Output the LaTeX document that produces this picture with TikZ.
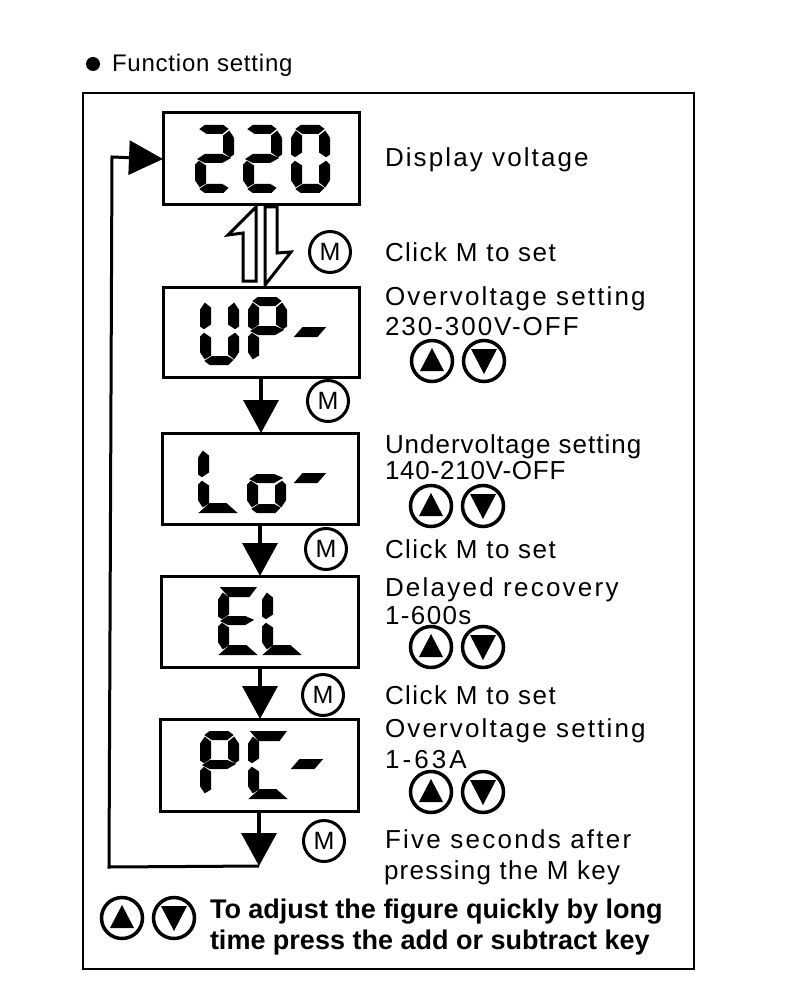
\documentclass[tikz,border=0pt]{standalone}
\usepackage{fontspec}
\setmainfont{Liberation Sans}
\usetikzlibrary{arrows.meta}

\newcommand{\lsp}[1]{\addfontfeature{LetterSpace=#1}}

\tikzset{
  x=1pt,y=-1pt,
  lcdbox/.style={draw,line width=3pt,inner sep=0pt,outer sep=0pt},
  mkey/.style={circle,draw,line width=3pt,minimum size=41pt,inner sep=0pt,font=\fontsize{25}{25}\selectfont},
  arrowkey/.style={circle,draw,line width=3.5pt,minimum size=41pt,inner sep=0pt},
  flow/.style={line width=3.5pt,-{Triangle[length=33pt,width=35pt]}},
  seg/.style={fill=black,draw=black,line width=2pt,line join=miter},
  lbl/.style={anchor=base west,inner sep=0pt,outer sep=0pt,font=\fontsize{26}{26}\selectfont},
  upkey/.pic={\node[arrowkey] {}; \fill (-12,10) -- (0,-13) -- (12,10) -- cycle;},
  downkey/.pic={\node[arrowkey] {}; \fill (-13,-12) -- (13,-12) -- (0,13) -- cycle;},
  sega/.pic={\path[seg] (6,4) -- (10,1) -- (28,1) -- (32,4) -- (27,8) -- (12,8) -- cycle;},
  segb/.pic={\path[seg] (29,11) -- (34,7) -- (38,13) -- (38,29) -- (35,31) -- (29,27) -- cycle;},
  segc/.pic={\path[seg] (29,41) -- (35,37) -- (38,40) -- (38,55) -- (34,61) -- (29,57) -- cycle;},
  segd/.pic={\path[seg] (6,64) -- (12,60) -- (27,60) -- (32,63) -- (28,67) -- (10,67) -- cycle;},
  sege/.pic={\path[seg] (1,40) -- (4,37) -- (10,41) -- (10,58) -- (5,61) -- (1,55) -- cycle;},
  segf/.pic={\path[seg] (1,13) -- (5,7) -- (10,11) -- (10,27) -- (4,31) -- (1,29) -- cycle;},
  segg/.pic={\path[seg] (4,34) -- (10,30) -- (27,30) -- (34,33) -- (27,37) -- (10,37) -- cycle;},
  segs/.pic={\path[seg] (4,1) -- (37,1) -- (31,9) -- (11,9) -- cycle;},
  segl/.pic={\path[seg] (3,67) -- (12,59) -- (28,59) -- (37,67) -- cycle;},
  segm/.pic={\path[seg] (1,9) -- (8,1) -- (29,1) -- (22,9) -- cycle;},
}

% one lcd character: position, list of segments
\newcommand{\lcdchar}[2]{
  \begin{scope}[shift={#1}]
    \foreach \s in {#2} {\pic {seg\s};}
  \end{scope}
}

\begin{document}
\begin{tikzpicture}
  \useasboundingbox (0,0) rectangle (800,1000);

  \fill (93,64) circle (7);
  \node[lbl,font=\fontsize{24}{24}\selectfont] (title) at (112,72) {\lsp{3.3}Function setting};
  \node[draw,line width=2.5pt,minimum width=611pt,minimum height=876pt,inner sep=0pt] (frame) at (388.5,531) {};

  % displays
  \begin{scope}[every node/.style={lcdbox}]
    \node[minimum width=196pt,minimum height=92pt] (disp) at (261,159) {};
    \node[minimum width=196pt,minimum height=90pt] (up)   at (261,332) {};
    \node[minimum width=196pt,minimum height=91pt] (lo)   at (260,478.5) {};
    \node[minimum width=197pt,minimum height=91pt] (el)   at (259.5,621.5) {};
    \node[minimum width=198pt,minimum height=92pt] (pc)   at (259,765) {};
  \end{scope}

  \lcdchar{(195,125)}{a,b,g,e,d}
  \lcdchar{(243,125)}{a,b,g,e,d}
  \lcdchar{(291,125)}{a,b,c,d,e,f}

  \lcdchar{(200,297)}{f,e,d,b,c}
  \lcdchar{(248,297)}{a,b,f,g,e}
  \lcdchar{(295,327)}{m}

  \lcdchar{(198,445)}{f,e,l}
  \lcdchar{(247,445)}{g,c,d,e}
  \lcdchar{(295,473)}{m}

  \lcdchar{(218,587)}{s,f,g,e,l}
  \lcdchar{(262,587)}{f,e,l}

  \lcdchar{(200,731)}{a,b,f,g,e}
  \lcdchar{(248,731)}{s,f,e,l}
  \lcdchar{(292,759)}{m}

  % arrows
  \coordinate (back) at (259,866);
  \coordinate (backb) at (109,867);
  \coordinate (backt) at (112,157);
  \draw[flow] (up.south -| 261,0) -- (lo.north -| 261,0);
  \draw[flow] (lo.south -| 260,0) -- (el.north -| 260,0);
  \draw[flow] (el.south -| 260,0) -- (pc.north -| 260,0);
  \draw[flow] (pc.south -| 259,0) -- (back);
  \draw[line width=3pt,-{Triangle[length=34pt,width=34pt]},line join=miter] (back) -- (backb) -- (backt) -- (disp.west);
  \draw[line width=3pt,fill=white] (256,207) -- (228,235) -- (243,233) -- (243,281) -- (256,281) -- cycle;
  \draw[line width=3pt,fill=white] (265,207) -- (277,207) -- (277,253) -- (291,252) -- (265,285) -- cycle;

  % M keys
  \begin{scope}[every node/.style={mkey}]
    \node (m1) at (330,252) {M};
    \node (m2) at (328,401) {M};
    \node (m3) at (326,549) {M};
    \node (m4) at (323,695) {M};
    \node (m5) at (324,841) {M};
  \end{scope}

  % up and down keys
  \pic at (432,361) {upkey};
  \pic at (484,361) {downkey};
  \pic at (431,506) {upkey};
  \pic at (483,506) {downkey};
  \pic at (431,647) {upkey};
  \pic at (483,647) {downkey};
  \pic at (431,792) {upkey};
  \pic at (483,792) {downkey};
  \pic at (122,918) {upkey};
  \pic at (174,918) {downkey};

  % texts
  \begin{scope}[every node/.style={lbl}]
    \node (t1)  at (385,167) {\lsp{8.1}Display voltage};
    \node (t2)  at (385,261) {\lsp{5.7}Click M to set};
    \node (t3)  at (385,305) {\lsp{8.3}Overvoltage setting};
    \node (t4)  at (385,335) {\lsp{7.6}230-300V-OFF};
    \node (t5)  at (385,453) {\lsp{3.8}Undervoltage setting};
    \node (t6)  at (385,479) {\lsp{3.0}140-210V-OFF};
    \node (t7)  at (385,558) {\lsp{5.7}Click M to set};
    \node (t8)  at (385,596) {\lsp{8.6}Delayed recovery};
    \node (t9)  at (385,624) {\lsp{5.4}1-600s};
    \node (t10) at (385,704) {\lsp{5.7}Click M to set};
    \node (t11) at (385,737) {\lsp{8.3}Overvoltage setting};
    \node (t12) at (385,768) {\lsp{12}1-63A};
    \node (t13) at (385,848) {\lsp{8.7}Five seconds after};
    \node (t14) at (384,879) {\lsp{4.9}pressing the M key};
  \end{scope}
  \begin{scope}[every node/.style={lbl,font=\fontsize{27}{27}\selectfont\bfseries}]
    \node (b1) at (210,918) {To adjust the figure quickly by long};
    \node (b2) at (210,949) {time press the add or subtract key};
  \end{scope}
\end{tikzpicture}
\end{document}
